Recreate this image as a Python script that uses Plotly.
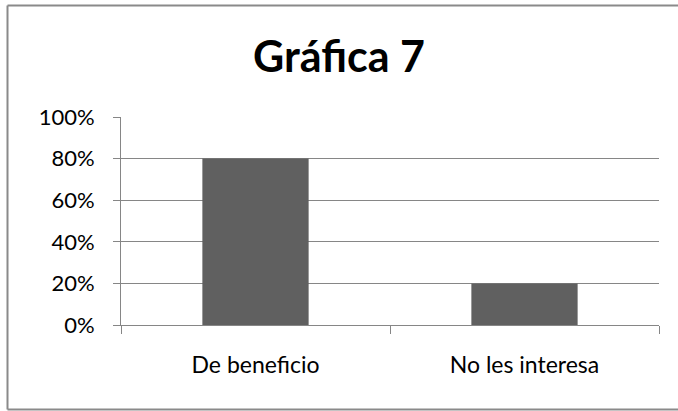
import plotly.graph_objects as go

categories = ["De beneficio", "No les interesa"]
values = [0.80, 0.20]
y_ticks = [0, 0.2, 0.4, 0.6, 0.8, 1.0]
y_tick_labels = ["0%", "20%", "40%", "60%", "80%", "100%"]
title_text = "Gráfica 7"

W, H = 678, 411
L, R, T, B = 121, 19, 117, 86
pw, ph = W - L - R, H - T - B

grid = "#868686"
FONT = "Lato, Open Sans, sans-serif"
fig = go.Figure(go.Bar(x=categories, y=values, marker=dict(color="#606060", line=dict(width=0)), width=0.395))


def px_x(v):
    return (v - L) / pw


def px_y(v):
    return (H - B - v) / ph


border = dict(color="#8a8a8a", width=2)
bx0, bx1, by0, by1 = px_x(7.5), px_x(W + 5), px_y(409.5), px_y(5.5)

fig.update_layout(
    width=W, height=H,
    margin=dict(l=L, r=R, t=T, b=B, autoexpand=False),
    paper_bgcolor="white", plot_bgcolor="white",
    showlegend=False,
    font=dict(family=FONT, color="#000000", size=22),
    title=dict(text="<b>" + title_text + "</b>", x=0.5, xanchor="center", y=1 - 57 / H, yanchor="middle",
               font=dict(size=43, family=FONT, color="#000000")),
    xaxis=dict(showgrid=False, showline=True, linecolor=grid, linewidth=1,
               ticks="outside", tickson="boundaries", ticklen=8, tickcolor=grid, tickwidth=1,
               tickfont=dict(size=23), ticklabelstandoff=19),
    yaxis=dict(range=[0, 1.0], tickvals=y_ticks, ticktext=y_tick_labels,
               showgrid=True, gridcolor=grid, gridwidth=1,
               showline=True, linecolor=grid, linewidth=1,
               ticks="outside", ticklen=7, tickcolor=grid, tickwidth=1, zeroline=False,
               tickfont=dict(size=22), ticklabelstandoff=14),
    shapes=[
        dict(type="line", xref="paper", yref="paper", x0=bx0, x1=bx0, y0=by0, y1=by1, line=border, layer="below"),
        dict(type="line", xref="paper", yref="paper", x0=bx0, x1=bx1, y0=by1, y1=by1, line=border, layer="below"),
        dict(type="line", xref="paper", yref="paper", x0=bx0, x1=bx1, y0=by0, y1=by0, line=border, layer="below"),
    ],
)

fig.write_html(
    "out.html",
    config={"displayModeBar": False},
    post_script="document.body.style.margin='0';document.body.style.padding='0';document.body.style.overflow='hidden';",
)
